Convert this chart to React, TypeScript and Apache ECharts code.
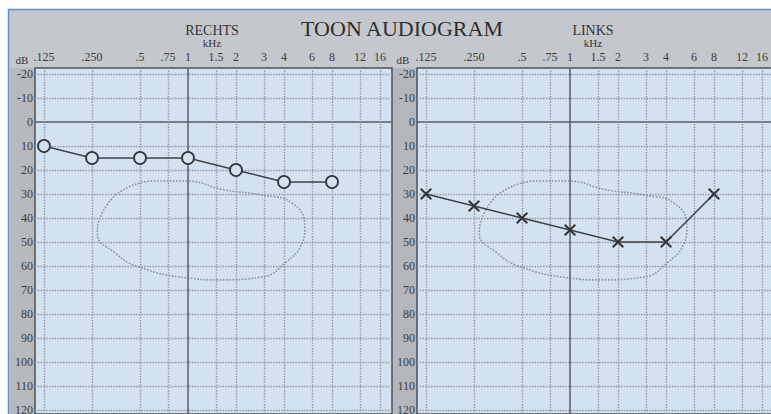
import React, { useEffect, useRef } from 'react';
import * as echarts from 'echarts';

const freqLabels = ['.125', '.250', '.5', '.75', '1', '1.5', '2', '3', '4', '6', '8', '12', '16'];
const freqValues = [0.125, 0.25, 0.5, 0.75, 1, 1.5, 2, 3, 4, 6, 8, 12, 16];
const dbTicks = [-20, -10, 0, 10, 20, 30, 40, 50, 60, 70, 80, 90, 100, 110, 120];
const testFreqs = [0.125, 0.25, 0.5, 1, 2, 4, 8];
const rechtsDb = [10, 15, 15, 15, 20, 25, 25];
const linksDb = [30, 35, 40, 45, 50, 50, 30];
const speechFreqs = [0.35, 0.6, 0.96, 1.7, 2.9, 4.5, 5.4, 5.2, 4.05, 2.9, 1.54, 1.0, 0.49, 0.35, 0.27, 0.29, 0.35];
const speechDb = [30.4, 24.6, 24.6, 28.3, 30.4, 33.8, 44.2, 50.4, 58.8, 64.6, 65.8, 65, 60.4, 54.6, 46.3, 37.9, 30.4];

const oct = (f: number) => Math.log2(f / 0.125);
const SERIF = '"Liberation Serif", "DejaVu Serif", serif';
const CROSS = 'path://M0,1.2 L1.2,0 L5,3.8 L8.8,0 L10,1.2 L6.2,5 L10,8.8 L8.8,10 L5,6.2 L1.2,10 L0,8.8 L3.8,5 Z';

export default function App() {
  const ref = useRef<HTMLDivElement>(null);
  useEffect(() => {
    if (!ref.current) return;
    const chart = echarts.init(ref.current, null, { renderer: 'svg' });
    const xVals = freqValues.map(oct);
    const labelFor = (v: number) => {
      const i = xVals.findIndex((x) => Math.abs(x - v) < 1e-6);
      return i >= 0 ? freqLabels[i] : '';
    };
    const gridLines = () => {
      const dotted = { type: 'dotted', color: '#8e959e', width: 1.4 };
      const solid = { type: 'solid', color: '#5a5d62', width: 1.5 };
      const data: any[] = [];
      dbTicks.forEach((d) => data.push({ yAxis: d, lineStyle: d === 0 ? solid : dotted }));
      freqValues.forEach((f) => data.push({ xAxis: oct(f), lineStyle: f === 1 ? solid : dotted }));
      return {
        silent: true,
        symbol: ['none', 'none'],
        label: { show: false },
        animation: false,
        data,
      };
    };
    const grids = [35, 417].map((left) => ({
      left,
      top: 68,
      width: 357,
      height: 346,
      outerBoundsMode: 'none',
      containLabel: false,
      show: true,
      backgroundColor: '#d3e2f1',
      borderColor: '#4f5256',
      borderWidth: 1.5,
      z: 1,
    }));
    const xAxes = [0, 1].map((g) => ({
      type: 'value',
      gridIndex: g,
      position: 'top',
      min: -0.1875,
      max: 7.25,
      axisLine: { show: false },
      axisTick: { show: false },
      splitLine: { show: false },
      axisLabel: {
        customValues: xVals,
        formatter: labelFor,
        margin: 5,
        fontFamily: SERIF,
        fontSize: 12,
        color: '#3c3c3c',
      },
    }));
    const yAxes = [0, 1].map((g) => ({
      type: 'value',
      gridIndex: g,
      inverse: true,
      min: -22.5,
      max: 121.67,
      axisLine: { show: false },
      axisTick: { show: false },
      splitLine: { show: false },
      axisLabel: {
        customValues: dbTicks,
        margin: 2,
        fontFamily: SERIF,
        fontSize: 12,
        color: '#3c3c3c',
      },
    }));
    const blob = (g: number) => ({
      type: 'line',
      xAxisIndex: g,
      yAxisIndex: g,
      data: speechFreqs.map((f, i) => [oct(f), speechDb[i]]),
      smooth: 0.5,
      symbol: 'none',
      silent: true,
      z: 2,
      lineStyle: { type: 'dotted', color: '#8a9099', width: 1.6 },
      markLine: gridLines(),
    });
    const option = {
      animation: false,
      backgroundColor: '#ffffff',
      grid: grids,
      xAxis: xAxes,
      yAxis: yAxes,
      graphic: [
        { type: 'rect', z: -10, shape: { x: 8.5, y: 9.5, width: 770, height: 410 }, style: { fill: '#c4c8cc', stroke: '#5b95c8', lineWidth: 1.5 } },
        { type: 'rect', z: -9, shape: { x: 9, y: 68, width: 26, height: 350 }, style: { fill: '#b6b9bd' } },
        { type: 'rect', z: -9, shape: { x: 392, y: 68, width: 25, height: 350 }, style: { fill: '#b3b6ba' } },
        { type: 'text', x: 402, y: 28, style: { text: 'TOON AUDIOGRAM', font: `22px ${SERIF}`, fill: '#2e2e2e', align: 'center', verticalAlign: 'middle' } },
        { type: 'text', x: 212, y: 30, style: { text: 'RECHTS', font: `14px ${SERIF}`, fill: '#333', align: 'center', verticalAlign: 'middle' } },
        { type: 'text', x: 212, y: 43, style: { text: 'kHz', font: `11px ${SERIF}`, fill: '#333', align: 'center', verticalAlign: 'middle' } },
        { type: 'text', x: 593, y: 30, style: { text: 'LINKS', font: `14px ${SERIF}`, fill: '#333', align: 'center', verticalAlign: 'middle' } },
        { type: 'text', x: 593, y: 43, style: { text: 'kHz', font: `11px ${SERIF}`, fill: '#333', align: 'center', verticalAlign: 'middle' } },
        { type: 'text', x: 22, y: 60, style: { text: 'dB', font: `11px ${SERIF}`, fill: '#333', align: 'center', verticalAlign: 'middle' } },
        { type: 'text', x: 403, y: 60, style: { text: 'dB', font: `11px ${SERIF}`, fill: '#333', align: 'center', verticalAlign: 'middle' } },
      ],
      series: [
        blob(0),
        blob(1),
        {
          name: 'RECHTS',
          type: 'line',
          xAxisIndex: 0,
          yAxisIndex: 0,
          z: 5,
          data: testFreqs.map((f, i) => [oct(f), rechtsDb[i]]),
          symbol: 'circle',
          symbolSize: 12,
          lineStyle: { color: '#3f4246', width: 1.6 },
          itemStyle: { color: '#d3e2f1', borderColor: '#333538', borderWidth: 1.8 },
        },
        {
          name: 'LINKS',
          type: 'line',
          xAxisIndex: 1,
          yAxisIndex: 1,
          z: 5,
          data: testFreqs.map((f, i) => [oct(f), linksDb[i]]),
          symbol: CROSS,
          symbolSize: 12,
          lineStyle: { color: '#3f4246', width: 1.6 },
          itemStyle: { color: '#333538' },
        },
      ],
    };
    chart.setOption(option as any);
    return () => chart.dispose();
  }, []);
  return <div ref={ref} style={{ position: 'absolute', left: 0, top: 0, width: 771, height: 414 }} />;
}
